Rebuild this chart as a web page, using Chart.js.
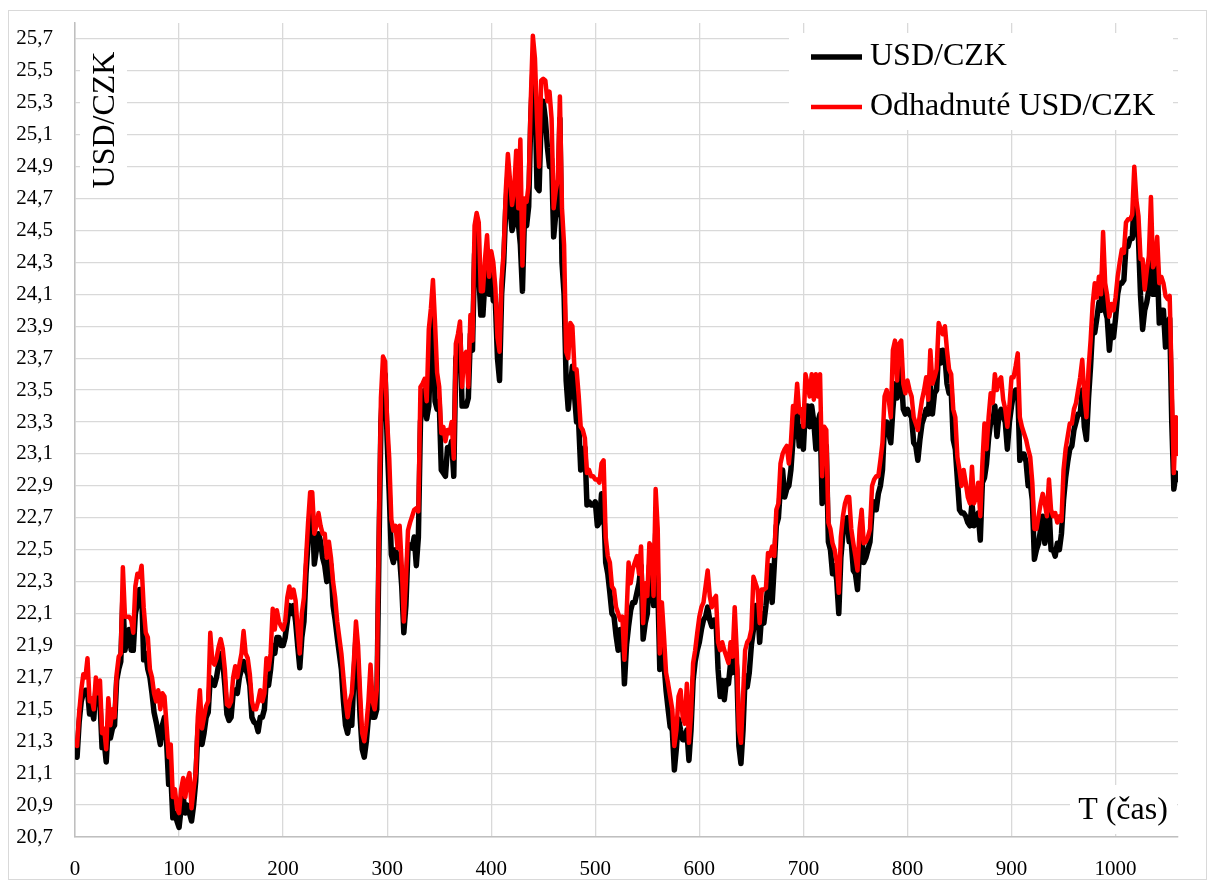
<!DOCTYPE html>
<html lang="cs">
<head>
  <meta charset="UTF-8">
  <title>USD/CZK a odhadnuté USD/CZK</title>
  <script src="https://cdn.jsdelivr.net/npm/chart.js"></script>
  <style>
    body { margin: 0; background: white; }
    #wrap { position: relative; width: 1208px; height: 881px; }
  </style>
</head>
<body>
<div id="wrap"><canvas id="chart" width="1208" height="881"></canvas></div>
<script>
// time index (T) of the sampled points
const tVals = [
  0, 2, 4, 6, 8, 10, 12, 14, 16, 18, 20, 22, 24, 26, 28, 30, 32, 34, 36, 38,
  40, 42, 44, 46, 48, 50, 52, 54, 56, 58, 60, 62, 64, 66, 68, 70, 72, 74, 76, 78,
  80, 82, 84, 86, 88, 90, 92, 94, 96, 98, 100, 102, 104, 106, 108, 110, 112, 114, 116, 118,
  120, 122, 124, 126, 128, 130, 132, 134, 136, 138, 140, 142, 144, 146, 148, 150, 152, 154, 156, 158,
  160, 162, 164, 166, 168, 170, 172, 174, 176, 178, 180, 182, 184, 186, 188, 190, 192, 194, 196, 198,
  200, 202, 204, 206, 208, 210, 212, 214, 216, 218, 220, 222, 224, 226, 228, 230, 232, 234, 236, 238,
  240, 242, 244, 246, 248, 250, 252, 254, 256, 258, 260, 262, 264, 266, 268, 270, 272, 274, 276, 278,
  280, 282, 284, 286, 288, 290, 292, 294, 296, 298, 300, 302, 304, 306, 308, 310, 312, 314, 316, 318,
  320, 322, 324, 326, 328, 330, 332, 334, 336, 338, 340, 342, 344, 346, 348, 350, 352, 354, 356, 358,
  360, 362, 364, 366, 368, 370, 372, 374, 376, 378, 380, 382, 384, 386, 388, 390, 392, 394, 396, 398,
  400, 402, 404, 406, 408, 410, 412, 414, 416, 418, 420, 422, 424, 426, 428, 430, 432, 434, 436, 438,
  440, 442, 444, 446, 448, 450, 452, 454, 456, 458, 460, 462, 464, 466, 468, 470, 472, 474, 476, 478,
  480, 482, 484, 486, 488, 490, 492, 494, 496, 498, 500, 502, 504, 506, 508, 510, 512, 514, 516, 518,
  520, 522, 524, 526, 528, 530, 532, 534, 536, 538, 540, 542, 544, 546, 548, 550, 552, 554, 556, 558,
  560, 562, 564, 566, 568, 570, 572, 574, 576, 578, 580, 582, 584, 586, 588, 590, 592, 594, 596, 598,
  600, 602, 604, 606, 608, 610, 612, 614, 616, 618, 620, 622, 624, 626, 628, 630, 632, 634, 636, 638,
  640, 642, 644, 646, 648, 650, 652, 654, 656, 658, 660, 662, 664, 666, 668, 670, 672, 674, 676, 678,
  680, 682, 684, 686, 688, 690, 692, 694, 696, 698, 700, 702, 704, 706, 708, 710, 712, 714, 716, 718,
  720, 722, 724, 726, 728, 730, 732, 734, 736, 738, 740, 742, 744, 746, 748, 750, 752, 754, 756, 758,
  760, 762, 764, 766, 768, 770, 772, 774, 776, 778, 780, 782, 784, 786, 788, 790, 792, 794, 796, 798,
  800, 802, 804, 806, 808, 810, 812, 814, 816, 818, 820, 822, 824, 826, 828, 830, 832, 834, 836, 838,
  840, 842, 844, 846, 848, 850, 852, 854, 856, 858, 860, 862, 864, 866, 868, 870, 872, 874, 876, 878,
  880, 882, 884, 886, 888, 890, 892, 894, 896, 898, 900, 902, 904, 906, 908, 910, 912, 914, 916, 918,
  920, 922, 924, 926, 928, 930, 932, 934, 936, 938, 940, 942, 944, 946, 948, 950, 952, 954, 956, 958,
  960, 962, 964, 966, 968, 970, 972, 974, 976, 978, 980, 982, 984, 986, 988, 990, 992, 994, 996, 998,
  1000, 1002, 1004, 1006, 1008, 1010, 1012, 1014, 1016, 1018, 1020, 1022, 1024, 1026, 1028, 1030, 1032, 1034, 1036, 1038,
  1040, 1042, 1044, 1046, 1048, 1050, 1052, 1054, 1056, 1058, 1060
];

// USD/CZK (black)
const usdCzk = [
  21.26, 21.20, 21.42, 21.55, 21.60, 21.62, 21.62, 21.47, 21.50, 21.44, 21.62, 21.55, 21.55, 21.26, 21.30, 21.17, 21.40, 21.32, 21.38, 21.40,
  21.68, 21.75, 21.80, 22.20, 21.87, 21.95, 22.00, 21.87, 21.87, 22.10, 22.16, 22.25, 22.25, 21.81, 21.85, 21.75, 21.70, 21.60, 21.48, 21.42,
  21.35, 21.28, 21.40, 21.45, 21.30, 21.03, 21.10, 20.82, 20.85, 20.80, 20.76, 20.88, 20.95, 20.85, 20.90, 20.85, 20.80, 20.90, 21.05, 21.35,
  21.50, 21.28, 21.35, 21.45, 21.48, 21.70, 21.66, 21.65, 21.70, 21.78, 21.85, 21.80, 21.65, 21.47, 21.43, 21.45, 21.60, 21.62, 21.60, 21.70,
  21.75, 21.80, 21.75, 21.72, 21.65, 21.45, 21.42, 21.41, 21.36, 21.45, 21.45, 21.50, 21.70, 21.65, 21.75, 21.90, 21.85, 21.95, 21.95, 21.90,
  21.90, 21.95, 22.05, 22.15, 22.10, 22.15, 22.05, 21.90, 21.76, 21.95, 22.05, 22.35, 22.55, 22.70, 22.75, 22.41, 22.50, 22.60, 22.55, 22.45,
  22.40, 22.30, 22.45, 22.40, 22.15, 22.06, 21.95, 21.85, 21.75, 21.55, 21.40, 21.35, 21.45, 21.40, 21.70, 21.95, 21.75, 21.45, 21.25, 21.20,
  21.30, 21.45, 21.60, 21.45, 21.45, 21.50, 22.45, 23.30, 23.54, 23.60, 23.18, 22.85, 22.47, 22.42, 22.50, 22.45, 22.45, 22.27, 21.98, 22.15,
  22.50, 22.53, 22.51, 22.58, 22.40, 22.58, 23.30, 23.43, 23.50, 23.32, 23.40, 23.79, 23.99, 23.43, 23.38, 23.43, 23.00, 22.98, 22.96, 23.14,
  23.12, 23.18, 22.96, 23.70, 23.75, 23.85, 23.40, 23.40, 23.40, 23.45, 23.85, 23.75, 24.35, 24.50, 24.23, 23.97, 23.97, 24.19, 24.30, 24.10,
  24.25, 24.06, 24.05, 23.70, 23.56, 24.10, 24.30, 24.65, 24.85, 24.64, 24.50, 24.55, 24.70, 24.55, 24.41, 24.12, 24.60, 24.53, 24.65, 25.20,
  25.50, 25.40, 24.77, 24.75, 25.20, 25.31, 25.20, 25.02, 24.90, 24.95, 24.46, 24.60, 24.60, 25.20, 24.30, 24.10, 23.56, 23.38, 23.52, 23.65,
  23.47, 23.30, 23.30, 23.00, 23.07, 23.14, 22.78, 22.80, 22.78, 22.78, 22.80, 22.65, 22.67, 22.85, 22.79, 22.42, 22.35, 22.23, 22.10, 22.08,
  21.96, 21.87, 22.00, 22.00, 21.66, 21.90, 22.02, 22.12, 22.17, 22.17, 22.23, 22.29, 22.40, 21.94, 22.04, 22.10, 22.40, 22.29, 22.15, 22.60,
  22.29, 21.75, 22.00, 21.79, 21.62, 21.50, 21.39, 21.37, 21.12, 21.26, 21.44, 21.37, 21.31, 21.31, 21.37, 21.18, 21.37, 21.68, 21.80, 21.87,
  21.92, 22.00, 22.06, 22.08, 22.14, 22.06, 22.02, 22.06, 22.06, 21.75, 21.58, 21.68, 21.56, 21.68, 21.66, 21.79, 21.73, 21.90, 21.75, 21.27,
  21.16, 21.37, 21.71, 21.64, 21.73, 21.90, 22.00, 22.15, 22.15, 21.92, 22.10, 22.04, 22.15, 22.29, 22.40, 22.17, 22.40, 22.65, 22.70, 22.90,
  23.00, 22.83, 22.88, 22.90, 23.00, 23.19, 23.25, 23.35, 23.15, 23.27, 23.13, 23.40, 23.40, 23.27, 23.40, 23.30, 23.13, 23.30, 23.35, 22.79,
  23.08, 23.15, 22.55, 22.50, 22.35, 22.40, 22.31, 22.10, 22.45, 22.60, 22.65, 22.70, 22.55, 22.55, 22.37, 22.35, 22.25, 22.50, 22.60, 22.42,
  22.45, 22.50, 22.55, 22.75, 22.80, 22.75, 22.85, 22.90, 23.00, 23.30, 23.30, 23.23, 23.17, 23.38, 23.54, 23.45, 23.65, 23.60, 23.38, 23.35,
  23.38, 23.35, 23.33, 23.17, 23.15, 23.06, 23.19, 23.29, 23.33, 23.38, 23.35, 23.54, 23.35, 23.48, 23.50, 23.75, 23.67, 23.75, 23.71, 23.54,
  23.48, 23.50, 23.19, 23.13, 22.94, 22.75, 22.73, 22.73, 22.71, 22.67, 22.65, 22.79, 22.65, 22.67, 22.73, 22.56, 22.92, 22.95, 23.04, 23.20,
  23.30, 23.30, 23.40, 23.21, 23.35, 23.38, 23.33, 23.30, 23.13, 23.30, 23.40, 23.48, 23.50, 23.50, 23.06, 23.10, 23.10, 23.05, 22.90, 22.92,
  22.81, 22.44, 22.50, 22.54, 22.63, 22.71, 22.54, 22.60, 22.77, 22.50, 22.50, 22.46, 22.54, 22.50, 22.60, 22.81, 22.95, 23.05, 23.13, 23.15,
  23.25, 23.30, 23.35, 23.35, 23.50, 23.27, 23.19, 23.45, 23.65, 23.90, 23.86, 23.95, 24.05, 24.00, 24.30, 24.00, 23.95, 23.75, 23.90, 23.83,
  23.95, 24.10, 24.17, 24.17, 24.19, 24.40, 24.40, 24.45, 24.45, 24.70, 24.50, 24.45, 24.09, 23.88, 24.00, 24.05, 24.13, 24.45, 24.10, 24.10,
  24.30, 23.92, 24.00, 24.00, 23.77, 23.92, 23.95, 23.30, 22.88, 22.98, 22.94
];

// Odhadnuté USD/CZK (red)
const odhadUsdCzk = [
  21.30, 21.27, 21.48, 21.62, 21.72, 21.70, 21.82, 21.55, 21.57, 21.50, 21.70, 21.60, 21.68, 21.35, 21.38, 21.25, 21.57, 21.40, 21.50, 21.45,
  21.72, 21.83, 21.85, 22.39, 22.08, 22.08, 22.08, 22.06, 21.98, 22.27, 22.35, 22.33, 22.40, 22.14, 21.98, 21.95, 21.75, 21.70, 21.60, 21.55,
  21.62, 21.50, 21.60, 21.58, 21.40, 21.20, 21.28, 20.95, 21.00, 20.88, 20.85, 21.00, 21.07, 20.95, 21.05, 21.10, 20.88, 21.00, 21.10, 21.45,
  21.62, 21.38, 21.45, 21.52, 21.55, 21.98, 21.80, 21.78, 21.82, 21.89, 21.94, 21.88, 21.75, 21.53, 21.52, 21.55, 21.70, 21.77, 21.70, 21.78,
  21.85, 21.99, 21.85, 21.82, 21.72, 21.55, 21.50, 21.50, 21.55, 21.62, 21.55, 21.60, 21.82, 21.75, 21.85, 22.13, 22.00, 22.12, 22.05, 22.02,
  22.00, 22.05, 22.20, 22.27, 22.20, 22.25, 22.18, 22.00, 21.85, 22.10, 22.20, 22.44, 22.67, 22.86, 22.86, 22.60, 22.65, 22.73, 22.65, 22.60,
  22.60, 22.45, 22.55, 22.45, 22.30, 22.20, 22.05, 21.95, 21.85, 21.70, 21.55, 21.45, 21.55, 21.60, 21.80, 22.05, 21.90, 21.60, 21.35, 21.30,
  21.40, 21.55, 21.78, 21.55, 21.50, 21.62, 22.60, 23.45, 23.71, 23.68, 23.30, 23.07, 22.69, 22.62, 22.65, 22.51, 22.65, 22.40, 22.05, 22.30,
  22.62, 22.67, 22.71, 22.75, 22.76, 22.74, 23.52, 23.54, 23.57, 23.43, 23.88, 24.01, 24.19, 23.92, 23.61, 23.52, 23.23, 23.27, 23.18, 23.25,
  23.23, 23.30, 23.07, 23.79, 23.85, 23.93, 23.52, 23.72, 23.74, 23.52, 23.97, 23.81, 24.53, 24.61, 24.55, 24.12, 24.12, 24.32, 24.47, 24.21,
  24.37, 24.30, 24.14, 23.83, 23.74, 24.19, 24.37, 24.75, 24.98, 24.82, 24.66, 24.75, 25.00, 24.64, 25.07, 24.28, 24.70, 24.68, 24.79, 25.31,
  25.72, 25.58, 25.20, 24.90, 25.44, 25.45, 25.44, 25.31, 25.37, 25.20, 24.64, 24.75, 24.82, 25.34, 24.64, 24.41, 23.74, 23.70, 23.92, 23.90,
  23.63, 23.63, 23.47, 23.27, 23.25, 23.20, 22.98, 23.00, 22.96, 22.96, 22.94, 22.94, 22.92, 23.04, 23.06, 22.58, 22.46, 22.42, 22.27, 22.25,
  22.14, 22.10, 22.06, 22.08, 21.81, 22.08, 22.42, 22.29, 22.38, 22.42, 22.46, 22.35, 22.52, 22.04, 22.29, 22.21, 22.54, 22.52, 22.21, 22.88,
  22.63, 21.85, 22.17, 21.96, 21.73, 21.66, 21.58, 21.50, 21.27, 21.37, 21.58, 21.62, 21.45, 21.41, 21.66, 21.29, 21.47, 21.79, 21.87, 21.98,
  22.08, 22.14, 22.17, 22.27, 22.37, 22.21, 22.14, 22.19, 22.21, 21.92, 21.87, 21.92, 21.87, 21.83, 21.79, 21.92, 21.83, 22.14, 21.85, 21.37,
  21.29, 21.58, 21.87, 21.92, 21.94, 22.00, 22.33, 22.29, 22.25, 22.04, 22.25, 22.25, 22.26, 22.48, 22.46, 22.52, 22.46, 22.75, 22.79, 23.04,
  23.10, 23.13, 23.15, 23.04, 23.17, 23.40, 23.36, 23.54, 23.36, 23.38, 23.27, 23.60, 23.54, 23.46, 23.60, 23.44, 23.60, 23.46, 23.60, 22.96,
  23.27, 23.25, 22.67, 22.63, 22.54, 22.50, 22.42, 22.23, 22.58, 22.71, 22.79, 22.83, 22.83, 22.63, 22.54, 22.46, 22.37, 22.63, 22.75, 22.54,
  22.55, 22.58, 22.63, 22.90, 22.94, 22.96, 22.96, 23.06, 23.17, 23.46, 23.50, 23.44, 23.33, 23.75, 23.81, 23.56, 23.79, 23.81, 23.54, 23.48,
  23.56, 23.50, 23.46, 23.33, 23.29, 23.25, 23.35, 23.44, 23.50, 23.58, 23.44, 23.75, 23.54, 23.58, 23.63, 23.92, 23.88, 23.85, 23.90, 23.75,
  23.63, 23.60, 23.38, 23.33, 23.08, 23.00, 22.90, 23.00, 22.92, 22.83, 22.79, 23.02, 22.79, 22.83, 22.92, 22.71, 23.04, 23.29, 23.13, 23.33,
  23.48, 23.42, 23.60, 23.50, 23.56, 23.58, 23.44, 23.38, 23.27, 23.40, 23.58, 23.58, 23.65, 23.73, 23.33, 23.27, 23.23, 23.19, 23.13, 23.08,
  22.92, 22.63, 22.63, 22.71, 22.79, 22.85, 22.79, 22.71, 22.94, 22.75, 22.71, 22.73, 22.67, 22.71, 22.68, 23.00, 23.13, 23.21, 23.29, 23.29,
  23.38, 23.42, 23.50, 23.58, 23.69, 23.46, 23.33, 23.63, 23.81, 24.04, 24.17, 24.08, 24.21, 24.10, 24.49, 24.17, 24.09, 23.96, 24.04, 24.00,
  24.08, 24.21, 24.30, 24.38, 24.36, 24.55, 24.57, 24.57, 24.60, 24.90, 24.69, 24.59, 24.32, 24.32, 24.13, 24.25, 24.34, 24.71, 24.27, 24.30,
  24.46, 24.17, 24.21, 24.17, 24.09, 24.07, 24.09, 23.54, 22.98, 23.33, 23.10
];

const yTicks = [20.7, 20.9, 21.1, 21.3, 21.5, 21.7, 21.9, 22.1, 22.3, 22.5, 22.7, 22.9, 23.1,
  23.3, 23.5, 23.7, 23.9, 24.1, 24.3, 24.5, 24.7, 24.9, 25.1, 25.3, 25.5, 25.7];
const xTicks = [0, 100, 200, 300, 400, 500, 600, 700, 800, 900, 1000];

const FONT = '"Liberation Serif", "Times New Roman", serif';

// frame, white boxes for legend/titles and the legend itself
const overlayPlugin = {
  id: 'overlay',
  beforeDraw(chart) {
    const ctx = chart.ctx;
    ctx.save();
    ctx.fillStyle = 'white';
    ctx.fillRect(0, 0, chart.width, chart.height);
    ctx.strokeStyle = '#d9d9d9';
    ctx.lineWidth = 1;
    ctx.strokeRect(8.5, 10.5, 1198, 869);
    ctx.restore();
  },
  beforeDatasetsDraw(chart) {
    const ctx = chart.ctx;
    ctx.save();
    ctx.fillStyle = 'white';
    ctx.fillRect(789, 33, 384, 97);
    ctx.fillRect(80, 45, 47, 147);
    ctx.fillRect(1070, 785, 107, 49);

    ctx.fillStyle = '#000';
    ctx.font = '32px ' + FONT;
    ctx.textBaseline = 'middle';

    // y axis title, rotated, inside the plot
    ctx.save();
    ctx.translate(106, 120);
    ctx.rotate(-Math.PI / 2);
    ctx.textAlign = 'center';
    ctx.fillText(chart.options.scales.y.title.text, 0, 0);
    ctx.restore();

    // x axis title, bottom right inside the plot
    ctx.textAlign = 'center';
    ctx.fillText(chart.options.scales.x.title.text, 1123, 811);

    // legend
    const rows = [57, 107];
    chart.data.datasets.forEach((ds, i) => {
      const y = rows[i];
      ctx.strokeStyle = ds.borderColor;
      ctx.lineWidth = ds.borderWidth;
      ctx.beginPath();
      ctx.moveTo(811, y);
      ctx.lineTo(862, y);
      ctx.stroke();
      ctx.fillStyle = '#000';
      ctx.textAlign = 'left';
      ctx.fillText(ds.label, 870, y);
    });
    ctx.restore();
  }
};

const toPoints = vals => vals.map((v, i) => ({ x: tVals[i], y: v }));

new Chart(document.getElementById('chart'), {
  type: 'line',
  data: {
    datasets: [
      {
        label: 'USD/CZK',
        data: toPoints(usdCzk),
        borderColor: '#000000',
        borderWidth: 5.5,
        borderJoinStyle: 'round',
        borderCapStyle: 'round',
        pointRadius: 0,
        tension: 0,
        order: 1
      },
      {
        label: 'Odhadnuté USD/CZK',
        data: toPoints(odhadUsdCzk),
        borderColor: '#ff0000',
        borderWidth: 4.5,
        borderJoinStyle: 'round',
        borderCapStyle: 'round',
        pointRadius: 0,
        tension: 0,
        order: 0
      }
    ]
  },
  options: {
    responsive: false,
    devicePixelRatio: 1,
    animation: false,
    layout: { padding: { left: 0, top: 23, right: 30, bottom: 0 } },
    plugins: {
      legend: { display: false },
      tooltip: { enabled: false }
    },
    scales: {
      x: {
        type: 'linear',
        min: 0,
        max: 1060,
        title: { display: false, text: 'T (čas)' },
        afterBuildTicks: s => { s.ticks = xTicks.map(v => ({ value: v })); },
        afterFit: s => { s.height = 44; },
        ticks: {
          padding: 0,
          maxRotation: 0,
          color: '#000',
          font: { family: FONT, size: 21 },
          callback: v => String(v)
        },
        grid: { color: '#d9d9d9', lineWidth: 1.3, drawTicks: true, tickLength: 20, tickColor: 'rgba(0,0,0,0)' },
        border: { color: '#bfbfbf', width: 1.5 }
      },
      y: {
        min: 20.7,
        max: 25.8,
        title: { display: false, text: 'USD/CZK' },
        afterBuildTicks: s => { s.ticks = yTicks.map(v => ({ value: v })); },
        afterFit: s => { s.width = 75; },
        ticks: {
          padding: 0,
          color: '#000',
          font: { family: FONT, size: 21 },
          callback: v => String(v).replace('.', ',')
        },
        grid: { color: '#d9d9d9', lineWidth: 1.3, drawTicks: true, tickLength: 22, tickColor: 'rgba(0,0,0,0)' },
        border: { color: '#bfbfbf', width: 1.5 }
      }
    }
  },
  plugins: [overlayPlugin]
});
</script>
</body>
</html>
